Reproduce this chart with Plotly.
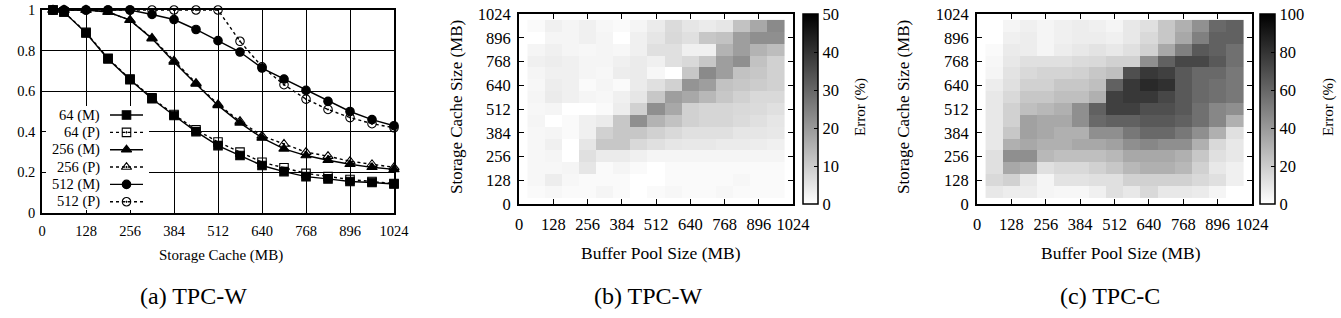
import plotly.graph_objects as go

W, H = 1341, 318
FONT = "Liberation Serif"

# ---------------- data: panel (a) ----------------
storage_mb = [32, 64, 128, 192, 256, 320, 384, 448, 512, 576, 640, 704, 768, 832, 896, 960, 1024]
hit_64_m = [1.0, 0.99, 0.887, 0.759, 0.657, 0.563, 0.48, 0.401, 0.332, 0.283, 0.234, 0.204, 0.179, 0.168, 0.155, 0.15, 0.143]
hit_64_p = [1.0, 0.99, 0.89, 0.762, 0.66, 0.567, 0.485, 0.41, 0.35, 0.30, 0.25, 0.223, 0.195, 0.18, 0.165, 0.155, 0.145]
hit_256_m = [1.0, 1.0, 1.0, 0.99, 0.95, 0.859, 0.744, 0.636, 0.53, 0.444, 0.37, 0.316, 0.283, 0.26, 0.24, 0.225, 0.215]
hit_256_p = [1.0, 1.0, 1.0, 0.99, 0.95, 0.862, 0.75, 0.64, 0.535, 0.452, 0.38, 0.34, 0.30, 0.28, 0.255, 0.24, 0.225]
hit_512_m = [1.0, 1.0, 1.0, 1.0, 1.0, 0.978, 0.953, 0.904, 0.849, 0.793, 0.714, 0.66, 0.604, 0.55, 0.50, 0.46, 0.43]
hit_512_p = [1.0, 1.0, 1.0, 1.0, 1.0, 1.0, 1.0, 1.0, 1.0, 0.846, 0.72, 0.632, 0.561, 0.51, 0.47, 0.44, 0.42]
series_names = ["64 (M)", "64 (P)", "256 (M)", "256 (P)", "512 (M)", "512 (P)"]
axis_ticks_mb = [0, 128, 256, 384, 512, 640, 768, 896, 1024]
ratio_ticks = [0, 0.2, 0.4, 0.6, 0.8, 1.0]
ratio_ticktext = ["0", "0.2", "0.4", "0.6", "0.8", "1"]

# ---------------- data: heatmaps (rows listed from top y=960 down to y=64) ----------------
grid_mb = [64, 128, 192, 256, 320, 384, 448, 512, 576, 640, 704, 768, 832, 896, 960]
err_tpcw_top_down = [
    [1, 3, 2, 3, 1.5, 1, 2, 4, 7, 5, 4, 5, 12, 17, 23],
    [0, 2, 2, 3, 2, 0, 3, 5, 7.5, 6, 11, 12, 19, 22, 22],
    [2, 3, 2, 1.5, 2, 1.5, 3, 6, 6, 3, 3, 15, 19, 15, 13],
    [3, 3.5, 3, 2, 2, 3, 4, 3, 6, 7.5, 11, 19, 22, 12, 9],
    [2, 3, 3, 2, 1.5, 3.5, 4, 1.5, 0, 11, 23, 19, 12, 11, 9],
    [1.5, 3.5, 3, 1, 2, 1, 4, 6, 9, 21, 19, 12, 11, 10, 9],
    [2, 4, 3, 2, 1.5, 3, 5, 11, 19, 17, 14, 11, 9, 7.5, 7.5],
    [1.5, 2, 0, 0, 1, 3.5, 9, 22, 17, 9, 8, 8, 7.5, 7, 6],
    [2, 0, 1, 3, 4, 11, 22, 15, 12, 9, 8, 8, 7, 6, 5],
    [1.5, 2, 1, 3, 9, 11, 11, 9, 7.5, 6, 6, 6, 5, 5, 4.5],
    [1.5, 3, 0, 5, 11, 11, 7.5, 6, 5, 4.5, 4.5, 4, 4, 3.5, 3],
    [1.5, 2, 0, 6, 4, 4, 3, 2, 2, 2, 2, 2, 2, 2, 2],
    [1.5, 1.5, 2, 5, 1, 2, 1, 0, 1, 1, 1, 1, 1, 1, 1],
    [1.5, 3.5, 1.5, 1, 1, 1, 0, 0, 1, 1, 1, 1, 1.5, 1, 1],
    [1, 1.5, 1, 1, 2, 1, 0, 1, 1.5, 1, 1, 1.5, 1, 1, 1],
]
err_tpcc_top_down = [
    [0, 4, 6, 4, 6, 7, 6, 4, 9, 12, 22, 31, 43, 59, 62],
    [0, 6, 7, 4, 6, 7, 7, 6, 9, 15, 22, 34, 50, 62, 62],
    [2, 8, 7, 4, 7, 9, 11, 9, 12, 18, 34, 50, 65, 62, 56],
    [3, 9, 12, 12, 12, 14, 15, 18, 18, 44, 62, 72, 72, 65, 56],
    [4, 11, 15, 17, 17, 18, 22, 25, 69, 78, 75, 65, 59, 59, 53],
    [7, 12, 18, 18, 22, 22, 25, 62, 78, 84, 81, 65, 59, 56, 53],
    [9, 15, 22, 22, 25, 25, 31, 75, 78, 78, 72, 65, 59, 56, 53],
    [9, 18, 25, 28, 31, 44, 62, 75, 75, 69, 69, 65, 56, 47, 44],
    [9, 18, 37, 34, 34, 44, 59, 62, 62, 65, 65, 62, 56, 47, 31],
    [9, 22, 37, 34, 31, 31, 44, 44, 53, 59, 59, 53, 44, 31, 12],
    [9, 31, 34, 31, 31, 34, 34, 37, 44, 47, 44, 44, 31, 15, 9],
    [12, 44, 44, 28, 25, 25, 25, 28, 34, 34, 34, 31, 22, 12, 9],
    [12, 34, 31, 12, 15, 15, 18, 22, 28, 31, 31, 28, 18, 9, 6],
    [15, 18, 9, 4, 11, 11, 12, 12, 18, 18, 18, 18, 15, 12, 6],
    [9, 7, 7, 4, 3, 3, 6, 12, 9, 15, 9, 9, 8, 4, 0],
]
err_b_ticks = [0, 10, 20, 30, 40, 50]
err_c_ticks = [0, 20, 40, 60, 80, 100]

# ---------------- helpers (pixel -> paper) ----------------
def px(x):
    return x / W

def py(y):
    return 1 - y / H

gray = [[0, "#ffffff"], [1, "#000000"]]

fig = go.Figure()

# ---------------- panel (a) lines ----------------
styles = [
    ("square", "solid"),
    ("square-open-dot", "dot"),
    ("triangle-up", "solid"),
    ("triangle-up-open-dot", "dot"),
    ("circle", "solid"),
    ("circle-open-dot", "dot"),
]
all_series = [hit_64_m, hit_64_p, hit_256_m, hit_256_p, hit_512_m, hit_512_p]
for name, ys, (sym, dash) in zip(series_names, all_series, styles):
    size = 9 if "triangle" in sym else 8.5
    fig.add_trace(go.Scatter(
        x=storage_mb, y=ys, name=name, mode="lines+markers", cliponaxis=False,
        line=dict(color="black", width=1.4, dash=dash),
        marker=dict(symbol=sym, size=size, color="black", line=dict(color="black", width=1.1)),
        xaxis="x", yaxis="y", showlegend=False))

# legend box (own overlay subplot, pixel-like units) : white box hiding grid lines
LBX0, LBX1, LBY0, LBY1 = 46, 149, 106, 210
fig.add_trace(go.Scatter(
    x=[LBX0, LBX1, LBX1, LBX0, LBX0], y=[LBY0, LBY0, LBY1, LBY1, LBY0], mode="lines",
    fill="toself", fillcolor="white", line=dict(width=0, color="white"),
    xaxis="x4", yaxis="y4", showlegend=False, hoverinfo="skip"))
legend_row_y = [115 + 17.35 * k for k in range(len(series_names))]
for k, (name, (sym, dash)) in enumerate(zip(series_names, styles)):
    size = 9 if "triangle" in sym else 8.5
    fig.add_trace(go.Scatter(
        x=[110, 143], y=[legend_row_y[k]] * 2, mode="lines", line=dict(color="black", width=1.4, dash=dash),
        xaxis="x4", yaxis="y4", showlegend=False, hoverinfo="skip"))
    fig.add_trace(go.Scatter(
        x=[126.5], y=[legend_row_y[k]], mode="markers", cliponaxis=False,
        marker=dict(symbol=sym, size=size, color="black", line=dict(color="black", width=1.1)),
        xaxis="x4", yaxis="y4", showlegend=False, hoverinfo="skip"))

# ---------------- heatmaps ----------------
def cbar(xpix, ticks):
    return dict(x=px(xpix), xanchor="left", xref="paper", y=py(109), yanchor="middle",
                len=190 / H, lenmode="fraction", thickness=14.5, thicknessmode="pixels",
                xpad=0, ypad=0, outlinewidth=1.5, outlinecolor="black",
                ticks="inside", ticklen=4, tickcolor="black", tickwidth=1,
                tickvals=ticks, tickfont=dict(size=16.5, family=FONT, color="black"))

fig.add_trace(go.Heatmap(
    x=grid_mb, y=grid_mb, z=err_tpcw_top_down[::-1], zmin=0, zmax=50, colorscale=gray,
    xaxis="x2", yaxis="y2", colorbar=cbar(803, err_b_ticks)))
fig.add_trace(go.Heatmap(
    x=grid_mb, y=grid_mb, z=err_tpcc_top_down[::-1], zmin=0, zmax=100, colorscale=gray,
    xaxis="x3", yaxis="y3", colorbar=cbar(1260, err_c_ticks)))

# ---------------- axes ----------------
tick_font_a = dict(size=14.5, family=FONT, color="black")
tick_font_h = dict(size=16.5, family=FONT, color="black")

common_a = dict(showline=True, linecolor="black", linewidth=1.5, mirror="ticks", ticks="inside",
                ticklen=4, tickcolor="black", showgrid=True, gridcolor="black", gridwidth=1.3,
                zeroline=False, tickfont=tick_font_a, automargin=False)
common_h = dict(showline=True, linecolor="black", linewidth=2, mirror="ticks", ticks="inside",
                ticklen=5, tickwidth=1.2, tickcolor="black", showgrid=False, zeroline=False,
                tickfont=tick_font_h, range=[0, 1024], tickvals=axis_ticks_mb, automargin=False)

fig.update_layout(
    template="none",
    xaxis=dict(domain=[px(42), px(394)], range=[0, 1024], tickvals=axis_ticks_mb, anchor="y",
               ticklabelstandoff=4, **common_a),
    yaxis=dict(domain=[py(213), py(10)], range=[0, 1], tickvals=ratio_ticks, ticktext=ratio_ticktext,
               anchor="x", ticklabelstandoff=2, **common_a),
    xaxis2=dict(domain=[px(519), px(793)], anchor="y2", ticklabelstandoff=4, **common_h),
    yaxis2=dict(domain=[py(204), py(14)], anchor="x2", ticklabelstandoff=3, **common_h),
    xaxis3=dict(domain=[px(977), px(1252)], anchor="y3", ticklabelstandoff=4, **common_h),
    yaxis3=dict(domain=[py(204), py(14)], anchor="x3", ticklabelstandoff=3, **common_h),
    xaxis4=dict(domain=[px(LBX0), px(LBX1)], range=[LBX0, LBX1], visible=False, anchor="y4",
                fixedrange=True, automargin=False),
    yaxis4=dict(domain=[py(LBY1), py(LBY0)], range=[LBY1, LBY0], visible=False, anchor="x4",
                fixedrange=True, automargin=False),
    width=W, height=H, margin=dict(l=0, r=0, t=0, b=0, pad=0, autoexpand=False),
    paper_bgcolor="white", plot_bgcolor="rgba(0,0,0,0)",
    font=dict(family=FONT, color="black"), showlegend=False,
)

ann = []
for k, name in enumerate(series_names):
    ann.append(dict(x=px(102), y=py(legend_row_y[k]), text=name, xanchor="right",
                    font=dict(size=14.5, family=FONT)))

ann += [
    dict(x=px(221), y=py(255), text="Storage Cache (MB)", font=dict(size=15, family=FONT)),
    dict(x=px(661), y=py(253), text="Buffer Pool Size (MB)", font=dict(size=17.5, family=FONT)),
    dict(x=px(1121), y=py(253), text="Buffer Pool Size (MB)", font=dict(size=17.5, family=FONT)),
    dict(x=px(456), y=py(107), text="Storage Cache Size (MB)", textangle=-90, font=dict(size=17, family=FONT)),
    dict(x=px(903), y=py(107), text="Storage Cache Size (MB)", textangle=-90, font=dict(size=17, family=FONT)),
    dict(x=px(860), y=py(107), text="Error (%)", textangle=-90, font=dict(size=15, family=FONT)),
    dict(x=px(1328), y=py(107), text="Error (%)", textangle=-90, font=dict(size=15, family=FONT)),
    dict(x=px(193), y=py(296), text="(a) TPC-W", font=dict(size=24, family=FONT)),
    dict(x=px(648), y=py(296), text="(b) TPC-W", font=dict(size=24, family=FONT)),
    dict(x=px(1110), y=py(296), text="(c) TPC-C", font=dict(size=24, family=FONT)),
]
for a in ann:
    a.setdefault("xref", "paper")
    a.setdefault("yref", "paper")
    a.setdefault("showarrow", False)
    a.setdefault("xanchor", "center")
    a.setdefault("yanchor", "middle")
fig.update_layout(annotations=ann)

fig.write_html("out.html")
